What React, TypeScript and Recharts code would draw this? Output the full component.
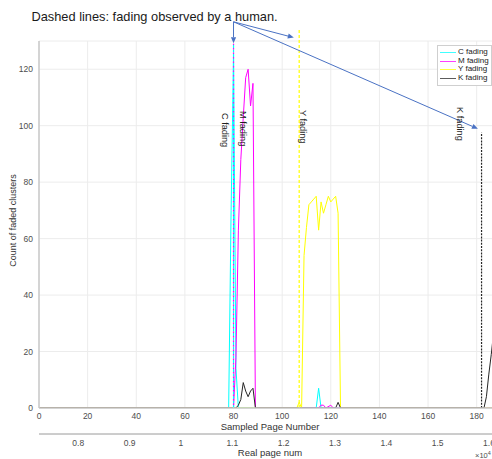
import {
  LineChart,
  Line,
  XAxis,
  YAxis,
  CartesianGrid,
  ReferenceLine,
  ReferenceDot,
  Legend,
} from 'recharts'

const FONT = '"Liberation Sans", Arial, Helvetica, sans-serif'

const pageTicks = [0, 20, 40, 60, 80, 100, 120, 140, 160, 180]
const countTicks = [0, 20, 40, 60, 80, 100, 120]
const realPageTicks = [0.8, 0.9, 1, 1.1, 1.2, 1.3, 1.4, 1.5, 1.6]

const seriesNames = ['C fading', 'M fading', 'Y fading', 'K fading']
const seriesColors = ['#00ffff', '#ff00ff', '#ffff00', '#262626']

// sampled pages where each curve bends, and the count read at that page
const cPages = [0, 78, 79, 80, 81, 82, 114, 115, 116, 188]
const cCounts = [0, 0, 70, 125, 14, 0, 0, 7, 0, 0]

const mPages = [0, 80, 81, 82, 83, 84, 85, 86, 87, 88, 89, 115, 116, 117, 118, 120, 121, 188]
const mCounts = [0, 0, 18, 63, 88, 103, 117, 120, 107, 115, 0, 0, 1, 1, 0, 1, 0, 0]

const yPages = [0, 106, 107, 108, 109, 110, 111, 112, 113, 114, 115, 116, 117, 118, 119, 120, 121, 122, 123, 124, 188]
const yCounts = [0, 0, 2, 0, 54, 64, 72, 73, 74, 75, 63, 73, 69, 72, 75, 73, 74, 75, 69, 0, 0]

const kPages = [0, 81, 82, 83, 84, 85, 86, 87, 88, 89, 122, 123, 124, 183, 184, 185, 186, 187, 188]
const kCounts = [0, 0, 1, 3, 9, 6, 4, 6, 7, 0, 0, 2, 0, 0, 4, 12, 19, 27, 34]

// dashed lines: page where a human saw the fading, and how tall the line is drawn
const humanPages = [80, 80, 107, 182]
const humanTops = [129, 129, 134.2, 97.6]
const humanDash = ['3 1.5', '1.5 3', '3 2', '2 1.2']
const humanDashOffset = [0, -3, 0, 0]

// rotated labels next to the dashed lines (page, count where the text starts)
const labelPages = [75.3, 82.7, 107.5, 171.9]
const labelCounts = [104.5, 105.2, 105.6, 106.6]

// annotation arrows from the title down to the dashed lines
const arrowFromPage = 80
const arrowFromCount = 136.8
const arrowToPages = [80, 104.8, 180.5]
const arrowToCounts = [129.2, 131.2, 98.9]

const ARROW = '#4a72c4'

function toPoints(pages: number[], counts: number[]) {
  return pages.map((page, i) => ({ page, count: counts[i] }))
}

function ArrowShape(props: any) {
  const { x1, y1, x2, y2 } = props
  const ang = Math.atan2(y2 - y1, x2 - x1)
  const len = 6
  const half = 2.6
  const bx = x2 - len * Math.cos(ang)
  const by = y2 - len * Math.sin(ang)
  const px = -Math.sin(ang) * half
  const py = Math.cos(ang) * half
  return (
    <g>
      <line x1={x1} y1={y1} x2={bx} y2={by} stroke={ARROW} strokeWidth={1} />
      <polygon points={`${x2},${y2} ${bx + px},${by + py} ${bx - px},${by - py}`} fill={ARROW} />
    </g>
  )
}

function makeLabel(text: string) {
  return (props: any) => {
    const { cx, cy } = props
    return (
      <text
        x={cx}
        y={cy}
        transform={`rotate(90 ${cx} ${cy})`}
        fontSize={9.2}
        fontFamily={FONT}
        fill="#1f1f1f"
      >
        {text}
      </text>
    )
  }
}

function YTitle(props: any) {
  const vb = props.viewBox
  const cx = vb.x + 13
  const cy = vb.y + vb.height / 2 - 4
  return (
    <text
      x={cx}
      y={cy}
      transform={`rotate(-90 ${cx} ${cy})`}
      textAnchor="middle"
      dominantBaseline="central"
      fontSize={9}
      fontFamily={FONT}
      fill="#333"
    >
      Count of faded clusters
    </text>
  )
}

function FadingLegend({ payload }: { payload?: Array<{ value: string; color: string }> }) {
  const items = [...(payload ?? [])].sort(
    (a, b) => seriesNames.indexOf(a.value) - seriesNames.indexOf(b.value)
  )
  return (
    <div
      style={{
        border: '1px solid #cfcfcf',
        background: '#fff',
        padding: '2px 2px 2px 2px',
        fontSize: 8,
        lineHeight: '8.7px',
        color: '#222',
        fontFamily: FONT,
      }}
    >
      {items.map((entry) => (
        <div key={entry.value} style={{ display: 'flex', alignItems: 'center', whiteSpace: 'nowrap' }}>
          <span
            style={{
              display: 'inline-block',
              width: 16,
              borderTop: `1.5px solid ${entry.color}`,
              marginRight: 2,
              opacity: 0.75,
            }}
          />
          {entry.value}
        </div>
      ))}
    </div>
  )
}

const tickStyle = { fontSize: 8.5, fill: '#4d4d4d', fontFamily: FONT }

export default function App() {
  const series = [
    toPoints(cPages, cCounts),
    toPoints(mPages, mCounts),
    toPoints(yPages, yCounts),
    toPoints(kPages, kCounts),
  ]

  return (
    <div
      style={{
        position: 'absolute',
        left: 0,
        top: 0,
        width: 492,
        height: 459,
        overflow: 'hidden',
        background: '#fff',
        fontFamily: FONT,
      }}
    >
      <LineChart width={521} height={459} margin={{ top: 41, right: 20, bottom: 0, left: 0 }}>
        <CartesianGrid stroke="#ececec" />
        <XAxis
          xAxisId={0}
          type="number"
          dataKey="page"
          domain={[0, 190]}
          ticks={pageTicks}
          allowDataOverflow
          height={26}
          tickLine={false}
          tickSize={2}
          tickMargin={3}
          axisLine={{ stroke: '#c8c8c8', strokeWidth: 1.5 }}
          tick={tickStyle}
          label={{
            value: 'Sampled Page Number',
            position: 'insideBottom',
            offset: 4,
            fontSize: 9.5,
            fill: '#333',
            fontFamily: FONT,
          }}
        />
        <XAxis
          xAxisId="real"
          type="number"
          dataKey="realPage"
          domain={[0.7235, 1.6233]}
          ticks={realPageTicks}
          allowDataOverflow
          height={25}
          tickLine={false}
          tickSize={3}
          tickMargin={3}
          interval={0}
          axisLine={{ stroke: '#9a9a9a', strokeWidth: 1 }}
          tick={tickStyle}
          tickFormatter={(v: number) => String(Number(Number(v).toFixed(1)))}
          label={{
            value: 'Real page num',
            position: 'insideBottom',
            offset: 3,
            fontSize: 9.5,
            fill: '#333',
            fontFamily: FONT,
          }}
        />
        <YAxis
          type="number"
          domain={[0, 130]}
          ticks={countTicks}
          allowDataOverflow
          width={39}
          tickLine={false}
          tickSize={4}
          tickMargin={2}
          axisLine={{ stroke: '#c8c8c8', strokeWidth: 1.5 }}
          tick={tickStyle}
          label={{ content: YTitle }}
        />
        <Legend
          layout="vertical"
          align="center"
          verticalAlign="middle"
          wrapperStyle={{ left: 437, top: 45, width: 'auto' }}
          content={<FadingLegend />}
        />
        {series.map((data, i) => (
          <Line
            key={seriesNames[i]}
            data={data}
            dataKey="count"
            name={seriesNames[i]}
            type="linear"
            stroke={seriesColors[i]}
            strokeWidth={1}
            dot={false}
            activeDot={false}
            isAnimationActive={false}
          />
        ))}
        {humanPages.map((page, i) => (
          <ReferenceLine
            key={`human-${i}`}
            segment={[
              { x: page, y: 0 },
              { x: page, y: humanTops[i] },
            ]}
            stroke={seriesColors[i]}
            strokeWidth={1.2}
            strokeDasharray={humanDash[i]}
            strokeDashoffset={humanDashOffset[i]}
            ifOverflow="visible"
          />
        ))}
        {labelPages.map((page, i) => (
          <ReferenceDot
            key={`label-${i}`}
            x={page}
            y={labelCounts[i]}
            r={0}
            ifOverflow="visible"
            shape={makeLabel(seriesNames[i])}
          />
        ))}
        {arrowToPages.map((page, i) => (
          <ReferenceLine
            key={`arrow-${i}`}
            segment={[
              { x: arrowFromPage, y: arrowFromCount },
              { x: page, y: arrowToCounts[i] },
            ]}
            ifOverflow="visible"
            shape={ArrowShape}
          />
        ))}
      </LineChart>
      <svg
        width={492}
        height={459}
        style={{ position: 'absolute', left: 0, top: 0, pointerEvents: 'none' }}
      >
        <text x={31.5} y={20.7} fontSize={12.8} fontFamily={FONT} fill="#1a1a1a">
          Dashed lines: fading observed by a human.
        </text>
        <text x={475} y={458} fontSize={7.5} fontFamily={FONT} fill="#4d4d4d">
          ×10
          <tspan dy={-3} fontSize={5.5}>4</tspan>
        </text>
      </svg>
    </div>
  )
}
